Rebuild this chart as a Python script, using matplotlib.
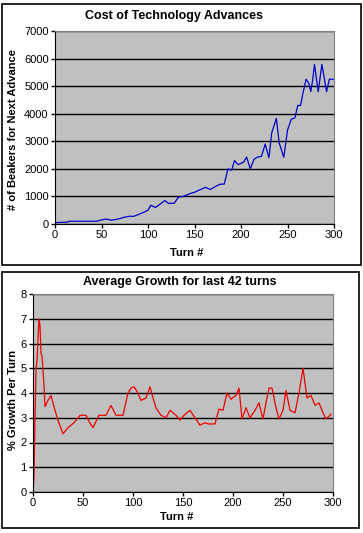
import matplotlib
matplotlib.use("Agg")
import matplotlib.pyplot as plt
from matplotlib.patches import Rectangle

# cost of technology advances (beakers for next advance)
cost_turn = [0, 14, 15, 45, 50, 55, 60, 65, 70, 75, 80, 85, 90, 95, 100, 103,
             108, 113, 118, 122, 128, 133, 138, 145, 150, 155, 162, 167, 172,
             177, 182, 186, 190, 193, 197, 203, 206, 210, 214, 218, 222, 226,
             230, 233, 238, 241, 246, 250, 254, 258, 261, 264, 267, 270, 273,
             275, 277, 279, 283, 287, 290, 292, 295, 299]
cost_beakers = [50, 70, 100, 100, 150, 180, 140, 160, 200, 250, 280, 280, 350,
                420, 500, 680, 600, 720, 850, 750, 750, 980, 1000, 1100, 1150,
                1230, 1330, 1250, 1350, 1440, 1450, 2000, 1950, 2300, 2150,
                2250, 2430, 2000, 2350, 2430, 2450, 2900, 2400, 3300, 3830,
                2950, 2420, 3400, 3800, 3850, 4300, 4300, 4800, 5250, 5100,
                4800, 5200, 5790, 4800, 5790, 5200, 4800, 5250, 5250]

# average growth over the last 42 turns (%)
growth_turn = [0, 1, 2, 3, 4, 6, 7, 8, 9, 11, 12, 15, 18, 22, 25, 30, 35, 41,
               47, 53, 56, 60, 66, 73, 78, 83, 90, 95, 98, 101, 105, 108, 113,
               117, 120, 123, 128, 133, 137, 143, 147, 151, 157, 162, 167, 172,
               175, 182, 186, 190, 194, 198, 203, 206, 209, 213, 217, 222, 226,
               230, 233, 236, 239, 243, 246, 250, 253, 257, 262, 266, 270, 272,
               274, 278, 282, 286, 290, 293, 297, 298]
growth_pct = [0, 0.6, 3.0, 5.0, 5.3, 7.0, 6.7, 5.6, 5.5, 4.3, 3.45, 3.7, 3.9,
              3.3, 2.9, 2.35, 2.6, 2.8, 3.1, 3.1, 2.85, 2.6, 3.1, 3.1, 3.5,
              3.1, 3.1, 4.0, 4.2, 4.25, 4.0, 3.7, 3.8, 4.25, 3.8, 3.4, 3.1,
              3.0, 3.3, 3.1, 2.9, 3.1, 3.3, 3.0, 2.7, 2.8, 2.75, 2.75, 3.35,
              3.3, 4.0, 3.75, 3.9, 4.2, 2.95, 3.4, 3.0, 3.3, 3.6, 2.95, 3.6,
              4.2, 4.2, 3.4, 2.95, 3.3, 4.1, 3.3, 3.2, 4.0, 5.0, 4.4, 3.8, 3.9,
              3.5, 3.6, 3.2, 2.95, 3.1, 3.15]

W, H = 363, 533
plt.rcParams["font.family"] = ["Liberation Sans", "DejaVu Sans"]
fig = plt.figure(figsize=(W / 100, H / 100), dpi=100)
fig.patch.set_facecolor("white")


def px_rect(x0, y0, x1, y1):
    # pixel box (top-left origin) -> figure fraction [l, b, w, h]
    return [x0 / W, (H - y1) / H, (x1 - x0) / W, (y1 - y0) / H]


def ftext(x, y, s, **kw):
    fig.text(x / W, (H - y) / H, s, ha="center", va="center", **kw)


# chart frames
for x0, y0, x1, y1 in [(2, 4, 361, 265), (2, 272, 359, 528)]:
    fig.patches.append(Rectangle((x0 / W, (H - y1) / H), (x1 - x0) / W,
                                 (y1 - y0) / H, transform=fig.transFigure,
                                 fill=False, edgecolor="black", lw=1.2))


def style(ax, ymax, ystep):
    ax.set_facecolor("#c0c0c0")
    ax.set_xlim(0, 300)
    ax.set_ylim(0, ymax)
    ax.set_xticks(range(0, 301, 50))
    ax.set_yticks(range(0, ymax + 1, ystep))
    ax.yaxis.grid(True, color="black", lw=1)
    ax.set_axisbelow(True)
    for s in ["top", "right"]:
        ax.spines[s].set_color("#808080")
    for s in ["left", "bottom"]:
        ax.spines[s].set_color("black")
    ax.tick_params(direction="out", length=3, width=1, labelsize=8, pad=1.5)


ax1 = fig.add_axes(px_rect(55, 31, 334, 224))
ax1.plot(cost_turn, cost_beakers, color="#0000cc", lw=0.9)
style(ax1, 7000, 1000)
ftext(174, 16, "Cost of Technology Advances", fontsize=9, fontweight="bold")
ftext(187, 253, "Turn #", fontsize=8, fontweight="bold")
ftext(13, 130, "# of Beakers for Next Advance", fontsize=8,
      fontweight="bold", rotation=90)

ax2 = fig.add_axes(px_rect(33, 294, 333, 492))
ax2.plot(growth_turn, growth_pct, color="#ee0000", lw=0.9)
style(ax2, 8, 1)
ftext(180, 282, "Average Growth for last 42 turns", fontsize=9,
      fontweight="bold")
ftext(177, 517, "Turn #", fontsize=8, fontweight="bold")
ftext(13, 400, "% Growth Per Turn", fontsize=8, fontweight="bold",
      rotation=90)

fig.savefig("out.png", dpi=100)
